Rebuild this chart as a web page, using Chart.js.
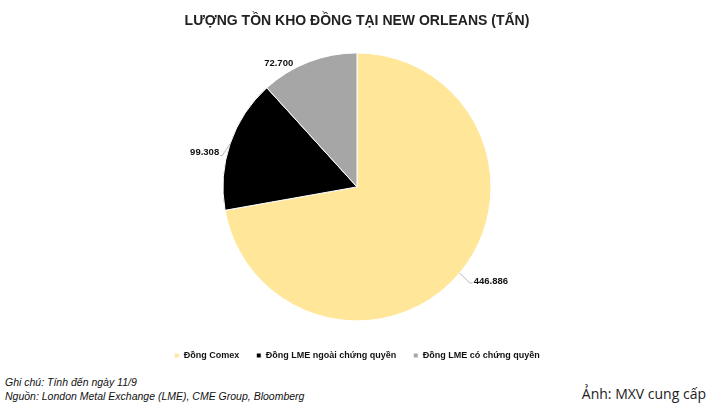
<!DOCTYPE html>
<html>
<head>
<meta charset="utf-8">
<script src="https://cdn.jsdelivr.net/npm/chart.js@4.4.1/dist/chart.umd.min.js"></script>
<style>
  html, body { margin: 0; padding: 0; background: #fff; }
  #wrap { position: relative; width: 720px; height: 405px; overflow: hidden; }
  #chart-box { position: absolute; left: 0; top: 0; width: 720px; height: 370px; }
  .note { position: absolute; left: 5px; font: italic 10.5px "Liberation Sans", Arial, sans-serif; color: #111; white-space: nowrap; }
  #credit { position: absolute; right: 14px; top: 384px; font: 14px "Open Sans", sans-serif; color: #222; white-space: nowrap; }
</style>
</head>
<body>
<div id="wrap">
  <div id="chart-box"><canvas id="pie"></canvas></div>
  <div class="note" style="top:376px;">Ghi chú: Tính đến ngày 11/9</div>
  <div class="note" style="top:390px;">Nguồn: London Metal Exchange (LME), CME Group, Bloomberg</div>
  <div id="credit">Ảnh: MXV cung cấp</div>
</div>
<script>
// ---- data ----
const categories = ['Đồng Comex', 'Đồng LME ngoài chứng quyền', 'Đồng LME có chứng quyền'];
const tonnes = [446886, 99308, 72700];
const valueLabels = ['446.886', '99.308', '72.700'];

const sliceColors = ['#FFE699', '#000000', '#A6A6A6'];

// label placement relative to the slice's outer mid-point (style only)
const labelStyle = [
  { line: [10, 10], tail: 3, dx: 1, dy: -2, align: 'left' },
  { line: [-8, 12], tail: -2, dx: -1, dy: -3, align: 'right' },
  { line: null, tail: 0, dx: -30, dy: 1, align: 'center' }
];

// draws the outside value labels + leader lines from the arc geometry
const outsideLabels = {
  id: 'outsideLabels',
  afterDatasetsDraw(chart) {
    const ctx = chart.ctx;
    const meta = chart.getDatasetMeta(0);
    ctx.save();
    ctx.font = 'bold 9.5px "Liberation Sans", Arial, sans-serif';
    ctx.textBaseline = 'middle';
    meta.data.forEach((arc, i) => {
      const p = arc.getProps(['x', 'y', 'startAngle', 'endAngle', 'outerRadius'], true);
      const mid = (p.startAngle + p.endAngle) / 2;
      const ax = p.x + Math.cos(mid) * p.outerRadius;
      const ay = p.y + Math.sin(mid) * p.outerRadius;
      const s = labelStyle[i];
      let ex = ax, ey = ay;
      if (s.line) {
        ex = ax + s.line[0];
        ey = ay + s.line[1];
        ctx.strokeStyle = '#A6A6A6';
        ctx.lineWidth = 0.8;
        ctx.beginPath();
        ctx.moveTo(ax, ay);
        ctx.lineTo(ex, ey);
        if (s.tail) { ex += s.tail; ctx.lineTo(ex, ey); }
        ctx.stroke();
      }
      ctx.fillStyle = '#111';
      ctx.textAlign = s.align;
      ctx.fillText(valueLabels[i], ex + s.dx, ey + s.dy);
    });
    ctx.restore();
  }
};

new Chart(document.getElementById('pie').getContext('2d'), {
  type: 'pie',
  data: {
    labels: categories,
    datasets: [{
      data: tonnes,
      backgroundColor: sliceColors,
      borderColor: '#ffffff',
      borderWidth: 1
    }]
  },
  options: {
    responsive: true,
    maintainAspectRatio: false,
    animation: false,
    radius: 134,
    layout: { padding: { left: 0, right: 6, top: 6, bottom: 0 } },
    plugins: {
      title: {
        display: true,
        text: 'LƯỢNG TỒN KHO ĐỒNG TẠI NEW ORLEANS (TẤN)',
        color: '#222',
        font: { family: '"Liberation Sans", Arial, sans-serif', size: 14, weight: 'bold' },
        padding: { top: 7, bottom: 10 }
      },
      legend: {
        position: 'bottom',
        labels: {
          boxWidth: 5,
          boxHeight: 5,
          padding: 17,
          color: '#111',
          font: { family: '"Liberation Sans", Arial, sans-serif', size: 9, weight: 'bold' }
        }
      },
      tooltip: { enabled: false }
    }
  },
  plugins: [outsideLabels]
});
</script>
</body>
</html>
